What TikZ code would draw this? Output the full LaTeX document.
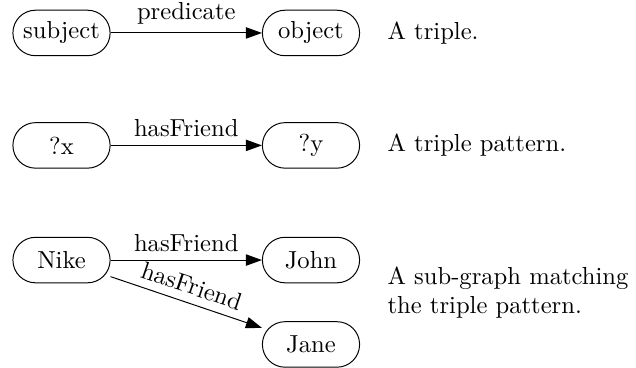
\documentclass[tikz,border=0pt]{standalone}
\usepackage{amsmath}
\usepackage{tikz}
\usetikzlibrary{arrows.meta}
\tikzset{
  res/.style={draw, rounded corners=9.2pt, minimum width=39.5pt, minimum height=18.5pt, inner sep=2pt},
  rel/.style={-{Triangle[length=6.5pt,width=4.6pt]}},
  note/.style={anchor=west, align=left}
}

\begin{document}
\begin{tikzpicture}
	\useasboundingbox (0pt,0pt) rectangle (258.5pt,-149.2pt);
	% a triple
	\node [res] (1) at (25pt,-13.4pt) {subject};
	\node [res] (2) at (126.4pt,-13.4pt) {object};
	\draw [rel]
	  (1) to
	  node [above] {predicate}
	  (2);
	\node [note] (n1) at (154pt,-13.4pt) {A triple.};
	% a triple pattern
	\node [res] (3) at (25pt,-59.1pt) {?x};
	\node [res] (4) at (126.4pt,-59.1pt) {?y};
	\draw [rel]
	  (3) to
	  node [above] {hasFriend}
	  (4);
	\node [note] (n2) at (154pt,-59.1pt) {A triple pattern.};
	% a matching sub-graph
	\node [res] (5) at (25pt,-105.7pt) {Nike};
	\node [res] (6) at (126.4pt,-105.7pt) {John};
	\node [res] (7) at (126.4pt,-140pt) {Jane};
	\draw [rel]
	  (5) to
	  node [above] {hasFriend}
	  (6);
	\draw [rel]
	  (5) to
	  node [above, sloped] {hasFriend}
	  (7);
	\node [note] (n3) at (154pt,-119pt) {A sub-graph matching\\the triple pattern.};
\end{tikzpicture}
\end{document}
